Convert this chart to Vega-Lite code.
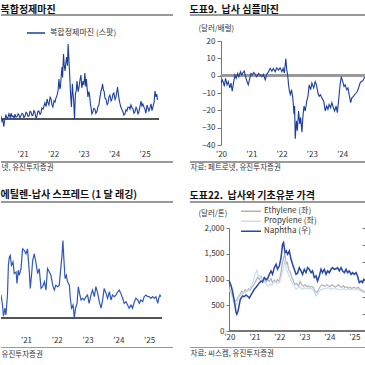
{
"$schema": "https://vega.github.io/schema/vega-lite/v6.json",
"padding": {"left": 0, "top": 4, "right": 0, "bottom": 0},
"columns": 2,
"spacing": {"row": 83, "column": 17},
"bounds": "flush",
"align": "none",
"resolve": {"scale": {"color": "independent"}, "legend": {"color": "independent"}},
"datasets": {
"tl": [
{"t":2020.29,"v":1.2},{"t":2020.32,"v":-0.8},{"t":2020.35,"v":-0.2},{"t":2020.38,"v":-3.0},{"t":2020.41,"v":-0.4},{"t":2020.45,"v":1.5},{"t":2020.49,"v":0.2},{"t":2020.52,"v":0.8},{"t":2020.55,"v":2.0},{"t":2020.59,"v":0.6},{"t":2020.62,"v":2.3},{"t":2020.65,"v":0.9},{"t":2020.68,"v":1.2},{"t":2020.72,"v":0.3},{"t":2020.75,"v":1.9},{"t":2020.78,"v":0.7},{"t":2020.81,"v":0.8},{"t":2020.85,"v":2.0},{"t":2020.88,"v":1.5},{"t":2020.91,"v":0.4},{"t":2020.94,"v":1.2},{"t":2020.98,"v":2.2},{"t":2021.01,"v":1.9},{"t":2021.04,"v":0.6},{"t":2021.08,"v":1.2},{"t":2021.11,"v":2.6},{"t":2021.14,"v":2.3},{"t":2021.18,"v":1.0},{"t":2021.21,"v":1.2},{"t":2021.24,"v":2.9},{"t":2021.27,"v":2.7},{"t":2021.31,"v":1.3},{"t":2021.34,"v":1.5},{"t":2021.37,"v":3.2},{"t":2021.40,"v":2.7},{"t":2021.44,"v":0.2},{"t":2021.47,"v":1.2},{"t":2021.50,"v":3.0},{"t":2021.53,"v":3.1},{"t":2021.57,"v":1.8},{"t":2021.60,"v":2.3},{"t":2021.63,"v":4.2},{"t":2021.67,"v":3.8},{"t":2021.70,"v":5.0},{"t":2021.73,"v":6.2},{"t":2021.77,"v":4.8},{"t":2021.80,"v":7.7},{"t":2021.83,"v":6.3},{"t":2021.86,"v":5.4},{"t":2021.90,"v":8.4},{"t":2021.93,"v":7.7},{"t":2021.96,"v":5.5},{"t":2021.99,"v":4.6},{"t":2022.03,"v":7.0},{"t":2022.06,"v":6.5},{"t":2022.09,"v":8.0},{"t":2022.12,"v":8.8},{"t":2022.16,"v":10.8},{"t":2022.19,"v":15.4},{"t":2022.22,"v":11.5},{"t":2022.24,"v":12.3},{"t":2022.27,"v":17.5},{"t":2022.29,"v":20.0},{"t":2022.31,"v":16.0},{"t":2022.34,"v":25.0},{"t":2022.36,"v":21.0},{"t":2022.39,"v":18.5},{"t":2022.42,"v":22.0},{"t":2022.44,"v":23.8},{"t":2022.47,"v":20.5},{"t":2022.49,"v":28.8},{"t":2022.52,"v":22.3},{"t":2022.55,"v":15.0},{"t":2022.57,"v":9.6},{"t":2022.60,"v":4.6},{"t":2022.63,"v":13.5},{"t":2022.65,"v":10.0},{"t":2022.67,"v":7.7},{"t":2022.70,"v":0.0},{"t":2022.73,"v":9.6},{"t":2022.76,"v":11.0},{"t":2022.78,"v":14.6},{"t":2022.82,"v":10.5},{"t":2022.85,"v":12.3},{"t":2022.88,"v":15.0},{"t":2022.91,"v":16.9},{"t":2022.94,"v":12.0},{"t":2022.98,"v":14.6},{"t":2023.01,"v":13.0},{"t":2023.04,"v":17.7},{"t":2023.07,"v":12.5},{"t":2023.09,"v":15.4},{"t":2023.12,"v":11.0},{"t":2023.14,"v":8.5},{"t":2023.17,"v":10.5},{"t":2023.19,"v":9.6},{"t":2023.22,"v":6.0},{"t":2023.24,"v":4.6},{"t":2023.27,"v":2.0},{"t":2023.30,"v":2.7},{"t":2023.33,"v":4.0},{"t":2023.37,"v":3.8},{"t":2023.40,"v":2.2},{"t":2023.44,"v":3.1},{"t":2023.47,"v":4.8},{"t":2023.50,"v":5.4},{"t":2023.53,"v":8.0},{"t":2023.57,"v":10.8},{"t":2023.60,"v":12.0},{"t":2023.62,"v":13.5},{"t":2023.65,"v":11.0},{"t":2023.67,"v":10.8},{"t":2023.70,"v":8.0},{"t":2023.73,"v":7.7},{"t":2023.77,"v":5.5},{"t":2023.80,"v":6.2},{"t":2023.83,"v":8.5},{"t":2023.86,"v":9.2},{"t":2023.90,"v":7.0},{"t":2023.93,"v":7.7},{"t":2023.96,"v":9.5},{"t":2023.99,"v":10.0},{"t":2024.03,"v":7.5},{"t":2024.06,"v":8.5},{"t":2024.09,"v":10.5},{"t":2024.11,"v":12.3},{"t":2024.14,"v":9.5},{"t":2024.16,"v":7.7},{"t":2024.19,"v":6.0},{"t":2024.22,"v":4.6},{"t":2024.26,"v":3.5},{"t":2024.29,"v":2.7},{"t":2024.32,"v":1.5},{"t":2024.35,"v":1.9},{"t":2024.39,"v":3.5},{"t":2024.42,"v":3.1},{"t":2024.45,"v":4.5},{"t":2024.49,"v":4.6},{"t":2024.52,"v":3.8},{"t":2024.55,"v":5.4},{"t":2024.59,"v":4.2},{"t":2024.62,"v":3.8},{"t":2024.65,"v":2.2},{"t":2024.68,"v":2.7},{"t":2024.72,"v":4.5},{"t":2024.75,"v":3.8},{"t":2024.78,"v":2.0},{"t":2024.81,"v":2.7},{"t":2024.85,"v":5.0},{"t":2024.88,"v":6.9},{"t":2024.91,"v":5.0},{"t":2024.94,"v":5.8},{"t":2024.98,"v":4.5},{"t":2025.01,"v":3.8},{"t":2025.04,"v":2.2},{"t":2025.08,"v":5.4},{"t":2025.11,"v":4.2},{"t":2025.14,"v":3.1},{"t":2025.18,"v":4.5},{"t":2025.21,"v":5.8},{"t":2025.24,"v":3.2},{"t":2025.27,"v":4.6},{"t":2025.31,"v":6.5},{"t":2025.34,"v":10.8},{"t":2025.37,"v":8.5},{"t":2025.40,"v":9.5},{"t":2025.42,"v":7.3}
],
"tr": [
{"t":2020.01,"v":-4.3},{"t":2020.04,"v":-2.4},{"t":2020.07,"v":-3.5},{"t":2020.11,"v":-6.2},{"t":2020.15,"v":-1.5},{"t":2020.2,"v":-5.3},{"t":2020.24,"v":-3.4},{"t":2020.29,"v":-7.1},{"t":2020.33,"v":-4.3},{"t":2020.37,"v":-9.0},{"t":2020.42,"v":-3.4},{"t":2020.46,"v":0.4},{"t":2020.5,"v":-1.5},{"t":2020.55,"v":1.3},{"t":2020.59,"v":-0.6},{"t":2020.64,"v":2.3},{"t":2020.68,"v":0.4},{"t":2020.73,"v":1.9},{"t":2020.77,"v":2.6},{"t":2020.81,"v":-0.6},{"t":2020.86,"v":-3.4},{"t":2020.9,"v":-5.3},{"t":2020.95,"v":-1.5},{"t":2020.99,"v":1.3},{"t":2021.03,"v":0.4},{"t":2021.08,"v":1.9},{"t":2021.13,"v":0.8},{"t":2021.18,"v":-0.6},{"t":2021.24,"v":1.3},{"t":2021.29,"v":0.4},{"t":2021.35,"v":-0.6},{"t":2021.4,"v":0.8},{"t":2021.46,"v":-2.4},{"t":2021.51,"v":0.8},{"t":2021.57,"v":2.3},{"t":2021.62,"v":4.2},{"t":2021.68,"v":2.6},{"t":2021.73,"v":4.2},{"t":2021.79,"v":2.3},{"t":2021.84,"v":4.5},{"t":2021.9,"v":3.2},{"t":2021.95,"v":4.5},{"t":2022.01,"v":2.3},{"t":2022.05,"v":4.2},{"t":2022.09,"v":1.5},{"t":2022.12,"v":6.5},{"t":2022.14,"v":9.8},{"t":2022.17,"v":3.5},{"t":2022.2,"v":0.4},{"t":2022.23,"v":-5.3},{"t":2022.26,"v":-9.0},{"t":2022.29,"v":-10.9},{"t":2022.33,"v":-8.1},{"t":2022.37,"v":-12.8},{"t":2022.41,"v":-22.2},{"t":2022.43,"v":-17.5},{"t":2022.45,"v":-36.4},{"t":2022.49,"v":-26.0},{"t":2022.52,"v":-31.7},{"t":2022.56,"v":-20.4},{"t":2022.6,"v":-27.9},{"t":2022.63,"v":-24.1},{"t":2022.67,"v":-32.6},{"t":2022.71,"v":-22.2},{"t":2022.74,"v":-17.5},{"t":2022.78,"v":-20.4},{"t":2022.83,"v":-14.7},{"t":2022.87,"v":-11.9},{"t":2022.91,"v":-5.3},{"t":2022.96,"v":-8.1},{"t":2023.0,"v":-4.3},{"t":2023.06,"v":-7.1},{"t":2023.11,"v":-3.4},{"t":2023.15,"v":-5.3},{"t":2023.2,"v":-10.0},{"t":2023.24,"v":-11.9},{"t":2023.28,"v":-11.0},{"t":2023.33,"v":-12.8},{"t":2023.39,"v":-14.7},{"t":2023.44,"v":-20.4},{"t":2023.49,"v":-17.5},{"t":2023.53,"v":-19.4},{"t":2023.57,"v":-16.6},{"t":2023.62,"v":-18.5},{"t":2023.66,"v":-15.6},{"t":2023.71,"v":-18.5},{"t":2023.75,"v":-20.4},{"t":2023.8,"v":-17.5},{"t":2023.84,"v":-21.3},{"t":2023.88,"v":-14.7},{"t":2023.93,"v":-5.3},{"t":2023.97,"v":-0.6},{"t":2024.02,"v":-3.4},{"t":2024.06,"v":-6.2},{"t":2024.1,"v":-5.3},{"t":2024.15,"v":-8.1},{"t":2024.19,"v":-7.1},{"t":2024.23,"v":-10.9},{"t":2024.28,"v":-15.6},{"t":2024.32,"v":-12.8},{"t":2024.37,"v":-11.9},{"t":2024.41,"v":-11.0},{"t":2024.46,"v":-10.0},{"t":2024.5,"v":-9.0},{"t":2024.54,"v":-7.1},{"t":2024.59,"v":-4.3},{"t":2024.63,"v":-3.4},{"t":2024.68,"v":-3.0},{"t":2024.72,"v":-1.5},{"t":2024.77,"v":-0.6},{"t":2024.83,"v":-1.0}
],
"bl": [
{"t":2020.19,"v":179},{"t":2020.24,"v":102},{"t":2020.27,"v":15},{"t":2020.32,"v":77},{"t":2020.35,"v":25},{"t":2020.40,"v":179},{"t":2020.43,"v":410},{"t":2020.46,"v":474},{"t":2020.49,"v":487},{"t":2020.53,"v":410},{"t":2020.58,"v":436},{"t":2020.62,"v":346},{"t":2020.68,"v":359},{"t":2020.71,"v":269},{"t":2020.75,"v":372},{"t":2020.78,"v":333},{"t":2020.84,"v":385},{"t":2020.89,"v":538},{"t":2020.95,"v":525},{"t":2021.0,"v":500},{"t":2021.05,"v":538},{"t":2021.11,"v":359},{"t":2021.14,"v":231},{"t":2021.18,"v":333},{"t":2021.22,"v":449},{"t":2021.27,"v":500},{"t":2021.32,"v":436},{"t":2021.38,"v":346},{"t":2021.43,"v":385},{"t":2021.49,"v":231},{"t":2021.54,"v":244},{"t":2021.6,"v":282},{"t":2021.65,"v":218},{"t":2021.70,"v":385},{"t":2021.76,"v":359},{"t":2021.81,"v":333},{"t":2021.87,"v":256},{"t":2021.92,"v":218},{"t":2021.97,"v":256},{"t":2022.03,"v":244},{"t":2022.08,"v":256},{"t":2022.14,"v":410},{"t":2022.17,"v":487},{"t":2022.20,"v":602},{"t":2022.23,"v":462},{"t":2022.27,"v":308},{"t":2022.31,"v":333},{"t":2022.35,"v":282},{"t":2022.41,"v":256},{"t":2022.44,"v":154},{"t":2022.48,"v":77},{"t":2022.53,"v":102},{"t":2022.57,"v":0},{"t":2022.61,"v":77},{"t":2022.66,"v":115},{"t":2022.70,"v":244},{"t":2022.74,"v":192},{"t":2022.79,"v":141},{"t":2022.84,"v":154},{"t":2022.89,"v":141},{"t":2022.95,"v":167},{"t":2023.0,"v":179},{"t":2023.05,"v":115},{"t":2023.11,"v":179},{"t":2023.16,"v":218},{"t":2023.22,"v":167},{"t":2023.27,"v":244},{"t":2023.33,"v":192},{"t":2023.38,"v":128},{"t":2023.44,"v":77},{"t":2023.49,"v":141},{"t":2023.54,"v":231},{"t":2023.6,"v":192},{"t":2023.65,"v":154},{"t":2023.71,"v":205},{"t":2023.76,"v":141},{"t":2023.81,"v":179},{"t":2023.87,"v":167},{"t":2023.92,"v":179},{"t":2023.98,"v":205},{"t":2024.03,"v":218},{"t":2024.08,"v":192},{"t":2024.14,"v":154},{"t":2024.19,"v":115},{"t":2024.25,"v":128},{"t":2024.3,"v":102},{"t":2024.35,"v":77},{"t":2024.41,"v":102},{"t":2024.46,"v":77},{"t":2024.52,"v":128},{"t":2024.57,"v":154},{"t":2024.63,"v":141},{"t":2024.68,"v":115},{"t":2024.73,"v":141},{"t":2024.79,"v":128},{"t":2024.84,"v":167},{"t":2024.9,"v":179},{"t":2024.95,"v":167},{"t":2025.0,"v":167},{"t":2025.06,"v":154},{"t":2025.11,"v":167},{"t":2025.17,"v":154},{"t":2025.22,"v":167},{"t":2025.28,"v":115},{"t":2025.31,"v":154},{"t":2025.35,"v":179},{"t":2025.38,"v":167}
],
"br": [
{"s":"Naphtha (우)","t":2020.0,"v":583},{"s":"Naphtha (우)","t":2020.07,"v":530},{"s":"Naphtha (우)","t":2020.13,"v":460},{"s":"Naphtha (우)","t":2020.2,"v":350},{"s":"Naphtha (우)","t":2020.27,"v":218},{"s":"Naphtha (우)","t":2020.3,"v":195},{"s":"Naphtha (우)","t":2020.35,"v":233},{"s":"Naphtha (우)","t":2020.44,"v":369},{"s":"Naphtha (우)","t":2020.53,"v":408},{"s":"Naphtha (우)","t":2020.6,"v":400},{"s":"Naphtha (우)","t":2020.67,"v":420},{"s":"Naphtha (우)","t":2020.73,"v":405},{"s":"Naphtha (우)","t":2020.8,"v":385},{"s":"Naphtha (우)","t":2020.87,"v":420},{"s":"Naphtha (우)","t":2020.93,"v":450},{"s":"Naphtha (우)","t":2021.0,"v":486},{"s":"Naphtha (우)","t":2021.07,"v":510},{"s":"Naphtha (우)","t":2021.13,"v":532},{"s":"Naphtha (우)","t":2021.2,"v":560},{"s":"Naphtha (우)","t":2021.27,"v":583},{"s":"Naphtha (우)","t":2021.33,"v":570},{"s":"Naphtha (우)","t":2021.4,"v":622},{"s":"Naphtha (우)","t":2021.47,"v":600},{"s":"Naphtha (우)","t":2021.53,"v":610},{"s":"Naphtha (우)","t":2021.6,"v":660},{"s":"Naphtha (우)","t":2021.67,"v":699},{"s":"Naphtha (우)","t":2021.73,"v":660},{"s":"Naphtha (우)","t":2021.8,"v":738},{"s":"Naphtha (우)","t":2021.87,"v":777},{"s":"Naphtha (우)","t":2021.93,"v":720},{"s":"Naphtha (우)","t":2022.0,"v":757},{"s":"Naphtha (우)","t":2022.07,"v":855},{"s":"Naphtha (우)","t":2022.13,"v":1010},{"s":"Naphtha (우)","t":2022.17,"v":1030},{"s":"Naphtha (우)","t":2022.23,"v":913},{"s":"Naphtha (우)","t":2022.28,"v":932},{"s":"Naphtha (우)","t":2022.33,"v":894},{"s":"Naphtha (우)","t":2022.4,"v":932},{"s":"Naphtha (우)","t":2022.47,"v":835},{"s":"Naphtha (우)","t":2022.53,"v":777},{"s":"Naphtha (우)","t":2022.6,"v":719},{"s":"Naphtha (우)","t":2022.67,"v":660},{"s":"Naphtha (우)","t":2022.73,"v":673},{"s":"Naphtha (우)","t":2022.8,"v":738},{"s":"Naphtha (우)","t":2022.87,"v":700},{"s":"Naphtha (우)","t":2022.93,"v":660},{"s":"Naphtha (우)","t":2023.0,"v":719},{"s":"Naphtha (우)","t":2023.07,"v":680},{"s":"Naphtha (우)","t":2023.13,"v":738},{"s":"Naphtha (우)","t":2023.2,"v":719},{"s":"Naphtha (우)","t":2023.27,"v":680},{"s":"Naphtha (우)","t":2023.33,"v":700},{"s":"Naphtha (우)","t":2023.4,"v":622},{"s":"Naphtha (우)","t":2023.47,"v":641},{"s":"Naphtha (우)","t":2023.53,"v":583},{"s":"Naphtha (우)","t":2023.6,"v":641},{"s":"Naphtha (우)","t":2023.67,"v":719},{"s":"Naphtha (우)","t":2023.73,"v":680},{"s":"Naphtha (우)","t":2023.8,"v":719},{"s":"Naphtha (우)","t":2023.87,"v":660},{"s":"Naphtha (우)","t":2023.93,"v":700},{"s":"Naphtha (우)","t":2024.0,"v":680},{"s":"Naphtha (우)","t":2024.07,"v":719},{"s":"Naphtha (우)","t":2024.13,"v":738},{"s":"Naphtha (우)","t":2024.2,"v":719},{"s":"Naphtha (우)","t":2024.27,"v":725},{"s":"Naphtha (우)","t":2024.33,"v":738},{"s":"Naphtha (우)","t":2024.4,"v":700},{"s":"Naphtha (우)","t":2024.47,"v":738},{"s":"Naphtha (우)","t":2024.53,"v":700},{"s":"Naphtha (우)","t":2024.6,"v":680},{"s":"Naphtha (우)","t":2024.67,"v":719},{"s":"Naphtha (우)","t":2024.73,"v":680},{"s":"Naphtha (우)","t":2024.8,"v":700},{"s":"Naphtha (우)","t":2024.87,"v":660},{"s":"Naphtha (우)","t":2024.93,"v":680},{"s":"Naphtha (우)","t":2025.0,"v":660},{"s":"Naphtha (우)","t":2025.07,"v":680},{"s":"Naphtha (우)","t":2025.13,"v":641},{"s":"Naphtha (우)","t":2025.2,"v":564},{"s":"Naphtha (우)","t":2025.27,"v":583},{"s":"Naphtha (우)","t":2025.33,"v":564},{"s":"Naphtha (우)","t":2025.38,"v":602},{"s":"Naphtha (우)","t":2025.42,"v":590},
{"s":"Ethylene (좌)","t":2020.0,"v":843},{"s":"Ethylene (좌)","t":2020.05,"v":780},{"s":"Ethylene (좌)","t":2020.1,"v":713},{"s":"Ethylene (좌)","t":2020.17,"v":620},{"s":"Ethylene (좌)","t":2020.23,"v":583},{"s":"Ethylene (좌)","t":2020.3,"v":600},{"s":"Ethylene (좌)","t":2020.37,"v":680},{"s":"Ethylene (좌)","t":2020.43,"v":713},{"s":"Ethylene (좌)","t":2020.5,"v":775},{"s":"Ethylene (좌)","t":2020.57,"v":740},{"s":"Ethylene (좌)","t":2020.63,"v":800},{"s":"Ethylene (좌)","t":2020.7,"v":770},{"s":"Ethylene (좌)","t":2020.77,"v":820},{"s":"Ethylene (좌)","t":2020.83,"v":790},{"s":"Ethylene (좌)","t":2020.9,"v":850},{"s":"Ethylene (좌)","t":2021.0,"v":913},{"s":"Ethylene (좌)","t":2021.07,"v":980},{"s":"Ethylene (좌)","t":2021.13,"v":1040},{"s":"Ethylene (좌)","t":2021.2,"v":1000},{"s":"Ethylene (좌)","t":2021.27,"v":1060},{"s":"Ethylene (좌)","t":2021.33,"v":990},{"s":"Ethylene (좌)","t":2021.4,"v":1040},{"s":"Ethylene (좌)","t":2021.47,"v":950},{"s":"Ethylene (좌)","t":2021.53,"v":1000},{"s":"Ethylene (좌)","t":2021.6,"v":960},{"s":"Ethylene (좌)","t":2021.67,"v":1020},{"s":"Ethylene (좌)","t":2021.73,"v":930},{"s":"Ethylene (좌)","t":2021.8,"v":990},{"s":"Ethylene (좌)","t":2021.87,"v":950},{"s":"Ethylene (좌)","t":2021.93,"v":1000},{"s":"Ethylene (좌)","t":2022.0,"v":960},{"s":"Ethylene (좌)","t":2022.07,"v":1150},{"s":"Ethylene (좌)","t":2022.13,"v":1350},{"s":"Ethylene (좌)","t":2022.22,"v":1500},{"s":"Ethylene (좌)","t":2022.27,"v":1300},{"s":"Ethylene (좌)","t":2022.32,"v":1330},{"s":"Ethylene (좌)","t":2022.37,"v":1200},{"s":"Ethylene (좌)","t":2022.43,"v":1150},{"s":"Ethylene (좌)","t":2022.5,"v":1050},{"s":"Ethylene (좌)","t":2022.57,"v":960},{"s":"Ethylene (좌)","t":2022.63,"v":900},{"s":"Ethylene (좌)","t":2022.7,"v":923},{"s":"Ethylene (좌)","t":2022.77,"v":860},{"s":"Ethylene (좌)","t":2022.83,"v":960},{"s":"Ethylene (좌)","t":2022.9,"v":900},{"s":"Ethylene (좌)","t":2022.97,"v":870},{"s":"Ethylene (좌)","t":2023.03,"v":900},{"s":"Ethylene (좌)","t":2023.1,"v":860},{"s":"Ethylene (좌)","t":2023.17,"v":880},{"s":"Ethylene (좌)","t":2023.23,"v":850},{"s":"Ethylene (좌)","t":2023.3,"v":870},{"s":"Ethylene (좌)","t":2023.37,"v":840},{"s":"Ethylene (좌)","t":2023.43,"v":770},{"s":"Ethylene (좌)","t":2023.5,"v":745},{"s":"Ethylene (좌)","t":2023.57,"v":800},{"s":"Ethylene (좌)","t":2023.63,"v":860},{"s":"Ethylene (좌)","t":2023.7,"v":900},{"s":"Ethylene (좌)","t":2023.77,"v":880},{"s":"Ethylene (좌)","t":2023.83,"v":870},{"s":"Ethylene (좌)","t":2023.9,"v":900},{"s":"Ethylene (좌)","t":2023.97,"v":880},{"s":"Ethylene (좌)","t":2024.03,"v":860},{"s":"Ethylene (좌)","t":2024.1,"v":900},{"s":"Ethylene (좌)","t":2024.17,"v":880},{"s":"Ethylene (좌)","t":2024.23,"v":850},{"s":"Ethylene (좌)","t":2024.3,"v":870},{"s":"Ethylene (좌)","t":2024.37,"v":900},{"s":"Ethylene (좌)","t":2024.43,"v":860},{"s":"Ethylene (좌)","t":2024.5,"v":850},{"s":"Ethylene (좌)","t":2024.57,"v":880},{"s":"Ethylene (좌)","t":2024.63,"v":840},{"s":"Ethylene (좌)","t":2024.7,"v":860},{"s":"Ethylene (좌)","t":2024.77,"v":830},{"s":"Ethylene (좌)","t":2024.83,"v":850},{"s":"Ethylene (좌)","t":2024.9,"v":820},{"s":"Ethylene (좌)","t":2024.97,"v":850},{"s":"Ethylene (좌)","t":2025.03,"v":840},{"s":"Ethylene (좌)","t":2025.1,"v":830},{"s":"Ethylene (좌)","t":2025.17,"v":850},{"s":"Ethylene (좌)","t":2025.23,"v":810},{"s":"Ethylene (좌)","t":2025.3,"v":790},{"s":"Ethylene (좌)","t":2025.37,"v":770},{"s":"Ethylene (좌)","t":2025.42,"v":750},
{"s":"Propylene (좌)","t":2020.0,"v":800},{"s":"Propylene (좌)","t":2020.05,"v":740},{"s":"Propylene (좌)","t":2020.1,"v":680},{"s":"Propylene (좌)","t":2020.17,"v":560},{"s":"Propylene (좌)","t":2020.23,"v":486},{"s":"Propylene (좌)","t":2020.3,"v":520},{"s":"Propylene (좌)","t":2020.37,"v":650},{"s":"Propylene (좌)","t":2020.43,"v":690},{"s":"Propylene (좌)","t":2020.5,"v":713},{"s":"Propylene (좌)","t":2020.57,"v":760},{"s":"Propylene (좌)","t":2020.63,"v":740},{"s":"Propylene (좌)","t":2020.7,"v":800},{"s":"Propylene (좌)","t":2020.77,"v":780},{"s":"Propylene (좌)","t":2020.83,"v":830},{"s":"Propylene (좌)","t":2020.9,"v":900},{"s":"Propylene (좌)","t":2020.97,"v":978},{"s":"Propylene (좌)","t":2021.03,"v":1100},{"s":"Propylene (좌)","t":2021.1,"v":1180},{"s":"Propylene (좌)","t":2021.17,"v":1050},{"s":"Propylene (좌)","t":2021.23,"v":1080},{"s":"Propylene (좌)","t":2021.3,"v":1000},{"s":"Propylene (좌)","t":2021.37,"v":1020},{"s":"Propylene (좌)","t":2021.43,"v":940},{"s":"Propylene (좌)","t":2021.5,"v":900},{"s":"Propylene (좌)","t":2021.57,"v":880},{"s":"Propylene (좌)","t":2021.63,"v":920},{"s":"Propylene (좌)","t":2021.7,"v":880},{"s":"Propylene (좌)","t":2021.77,"v":950},{"s":"Propylene (좌)","t":2021.83,"v":960},{"s":"Propylene (좌)","t":2021.9,"v":920},{"s":"Propylene (좌)","t":2021.97,"v":940},{"s":"Propylene (좌)","t":2022.03,"v":980},{"s":"Propylene (좌)","t":2022.1,"v":1100},{"s":"Propylene (좌)","t":2022.17,"v":1250},{"s":"Propylene (좌)","t":2022.22,"v":1380},{"s":"Propylene (좌)","t":2022.27,"v":1200},{"s":"Propylene (좌)","t":2022.33,"v":1150},{"s":"Propylene (좌)","t":2022.4,"v":1050},{"s":"Propylene (좌)","t":2022.47,"v":980},{"s":"Propylene (좌)","t":2022.53,"v":920},{"s":"Propylene (좌)","t":2022.6,"v":870},{"s":"Propylene (좌)","t":2022.67,"v":809},{"s":"Propylene (좌)","t":2022.73,"v":830},{"s":"Propylene (좌)","t":2022.8,"v":870},{"s":"Propylene (좌)","t":2022.87,"v":830},{"s":"Propylene (좌)","t":2022.93,"v":810},{"s":"Propylene (좌)","t":2023.0,"v":840},{"s":"Propylene (좌)","t":2023.07,"v":820},{"s":"Propylene (좌)","t":2023.13,"v":840},{"s":"Propylene (좌)","t":2023.2,"v":815},{"s":"Propylene (좌)","t":2023.27,"v":830},{"s":"Propylene (좌)","t":2023.33,"v":810},{"s":"Propylene (좌)","t":2023.4,"v":760},{"s":"Propylene (좌)","t":2023.47,"v":680},{"s":"Propylene (좌)","t":2023.53,"v":720},{"s":"Propylene (좌)","t":2023.6,"v":775},{"s":"Propylene (좌)","t":2023.67,"v":810},{"s":"Propylene (좌)","t":2023.73,"v":800},{"s":"Propylene (좌)","t":2023.8,"v":830},{"s":"Propylene (좌)","t":2023.87,"v":820},{"s":"Propylene (좌)","t":2023.93,"v":840},{"s":"Propylene (좌)","t":2024.0,"v":830},{"s":"Propylene (좌)","t":2024.07,"v":810},{"s":"Propylene (좌)","t":2024.13,"v":830},{"s":"Propylene (좌)","t":2024.2,"v":820},{"s":"Propylene (좌)","t":2024.27,"v":810},{"s":"Propylene (좌)","t":2024.33,"v":820},{"s":"Propylene (좌)","t":2024.4,"v":800},{"s":"Propylene (좌)","t":2024.47,"v":815},{"s":"Propylene (좌)","t":2024.53,"v":805},{"s":"Propylene (좌)","t":2024.6,"v":820},{"s":"Propylene (좌)","t":2024.67,"v":800},{"s":"Propylene (좌)","t":2024.73,"v":815},{"s":"Propylene (좌)","t":2024.8,"v":810},{"s":"Propylene (좌)","t":2024.87,"v":800},{"s":"Propylene (좌)","t":2024.93,"v":815},{"s":"Propylene (좌)","t":2025.0,"v":810},{"s":"Propylene (좌)","t":2025.07,"v":800},{"s":"Propylene (좌)","t":2025.13,"v":815},{"s":"Propylene (좌)","t":2025.2,"v":790},{"s":"Propylene (좌)","t":2025.27,"v":770},{"s":"Propylene (좌)","t":2025.33,"v":760},{"s":"Propylene (좌)","t":2025.38,"v":745},{"s":"Propylene (좌)","t":2025.42,"v":740}
]
},
"concat": [
{
"width": 172, "height": 104,
"title": {"text": "복합정제마진", "anchor": "start", "offset": 0},
"data": {"name": "tl"},
"layer": [
{"mark": {"type": "rule", "color": "#999999", "strokeWidth": 1},
"encoding": {"x": {"datum": 2020.29, "type": "quantitative", "scale": {"domain": [2020.29, 2025.93], "nice": false, "zero": false}, "axis": null}, "x2": {"datum": 2025.93}, "y": {"datum": 40, "type": "quantitative", "scale": {"domain": [-10, 30], "nice": false, "zero": false}, "axis": null}}},
{"mark": {"type": "rule", "color": "#999999", "strokeWidth": 1},
"encoding": {"x": {"datum": 2020.29, "type": "quantitative", "scale": {"domain": [2020.29, 2025.93], "nice": false, "zero": false}, "axis": null}, "x2": {"datum": 2025.93}, "y": {"datum": -16.54, "type": "quantitative", "scale": {"domain": [-10, 30], "nice": false, "zero": false}, "axis": null}}},
{"mark": {"type": "rule", "color": "#555555", "strokeWidth": 1},
"encoding": {"x": {"datum": 2020.29, "type": "quantitative", "scale": {"domain": [2020.29, 2025.93], "nice": false, "zero": false}, "axis": null}, "x2": {"datum": 2025.44}, "y": {"datum": 0, "type": "quantitative", "scale": {"domain": [-10, 30], "nice": false, "zero": false}, "axis": null}}},
{"mark": {"type": "line", "strokeWidth": 1.1, "clip": true},
"encoding": {
"x": {"field": "t", "type": "quantitative", "scale": {"domain": [2020.29, 2025.93], "nice": false, "zero": false},
"axis": {"orient": "bottom", "values": [2021, 2022, 2023, 2024, 2025], "labelExpr": "\"'\" + (datum.value - 2000)", "labelOverlap": false, "offset": 17, "domain": false, "ticks": false, "tickSize": 0, "labelPadding": -12, "title": "넷, 유진투자증권", "titleX": 0, "titleY": 5.3, "titleAlign": "left", "titleBaseline": "middle", "titleAnchor": "start"}},
"y": {"field": "v", "type": "quantitative", "scale": {"domain": [-10, 30], "nice": false, "zero": false}, "axis": null},
"color": {"datum": "복합정제마진 (스팟)", "type": "nominal", "scale": {"range": ["#1c3f9e"]}, "legend": {"orient": "none", "legendX": 25, "legendY": -18, "symbolSize": 324, "labelOffset": 4}}
}}
],
"resolve": {"axis": {"x": "independent", "y": "independent"}}
},
{
"width": 175, "height": 104,
"title": {"text": "도표9.\u00a0\u00a0납사 심플마진", "anchor": "start", "offset": 0},
"data": {"name": "tr"},
"layer": [
{"mark": {"type": "rule", "color": "#999999", "strokeWidth": 1},
"encoding": {"x": {"datum": 2018.977, "type": "quantitative", "scale": {"domain": [2018.977, 2024.753], "nice": false, "zero": false}, "axis": null}, "x2": {"datum": 2024.753}, "y": {"datum": 35.0, "type": "quantitative", "scale": {"domain": [-40, 20], "nice": false, "zero": false}, "axis": null}}},
{"mark": {"type": "rule", "color": "#999999", "strokeWidth": 1},
"encoding": {"x": {"datum": 2018.977, "type": "quantitative", "scale": {"domain": [2018.977, 2024.753], "nice": false, "zero": false}, "axis": null}, "x2": {"datum": 2024.753}, "y": {"datum": -49.81, "type": "quantitative", "scale": {"domain": [-40, 20], "nice": false, "zero": false}, "axis": null}}},
{"mark": {"type": "rule", "color": "#999999", "strokeWidth": 1.6},
"encoding": {"x": {"datum": 2020, "type": "quantitative", "scale": {"domain": [2018.977, 2024.753], "nice": false, "zero": false}, "axis": null}, "x2": {"datum": 2024.753}, "y": {"datum": 0, "type": "quantitative", "scale": {"domain": [-40, 20], "nice": false, "zero": false}, "axis": null}}},
{"mark": {"type": "line", "strokeWidth": 1.1, "clip": true, "color": "#1c3f9e"},
"encoding": {
"x": {"field": "t", "type": "quantitative", "scale": {"domain": [2018.977, 2024.753], "nice": false, "zero": false},
"axis": {"orient": "bottom", "values": [2020, 2021, 2022, 2023, 2024], "labelExpr": "\"'\" + (datum.value - 2000)", "labelOverlap": false, "offset": 17, "domain": false, "ticks": false, "tickSize": 0, "labelPadding": -12, "title": "자료: 페트로넷, 유진투자증권", "titleX": 0, "titleY": 5, "titleAlign": "left", "titleBaseline": "middle", "titleAnchor": "start"}},
"y": {"field": "v", "type": "quantitative", "scale": {"domain": [-40, 20], "nice": false, "zero": false},
"axis": {"orient": "left", "offset": -31, "values": [-40, -30, -20, -10, 0, 10, 20], "labelOverlap": false, "title": "(달러/배럴)", "titleAngle": 0, "titleX": -23, "titleY": -13, "titleAlign": "left", "titleBaseline": "middle", "tickSize": 4, "labelPadding": 2}}
}}
],
"resolve": {"axis": {"x": "independent", "y": "independent"}}
},
{
"width": 172, "height": 103,
"title": {"text": "에틸렌-납사 스프레드 (1 달 래깅)", "anchor": "start", "offset": 1},
"data": {"name": "bl"},
"layer": [
{"mark": {"type": "rule", "color": "#999999", "strokeWidth": 1},
"encoding": {"x": {"datum": 2020.19, "type": "quantitative", "scale": {"domain": [2020.19, 2025.774], "nice": false, "zero": false}, "axis": null}, "x2": {"datum": 2025.774}, "y": {"datum": 904.3, "type": "quantitative", "scale": {"domain": [-100, 700], "nice": false, "zero": false}, "axis": null}}},
{"mark": {"type": "rule", "color": "#999999", "strokeWidth": 1},
"encoding": {"x": {"datum": 2020.19, "type": "quantitative", "scale": {"domain": [2020.19, 2025.774], "nice": false, "zero": false}, "axis": null}, "x2": {"datum": 2025.774}, "y": {"datum": -228.2, "type": "quantitative", "scale": {"domain": [-100, 700], "nice": false, "zero": false}, "axis": null}}},
{"mark": {"type": "rule", "color": "#555555", "strokeWidth": 1},
"encoding": {"x": {"datum": 2020.19, "type": "quantitative", "scale": {"domain": [2020.19, 2025.774], "nice": false, "zero": false}, "axis": null}, "x2": {"datum": 2025.41}, "y": {"datum": 0, "type": "quantitative", "scale": {"domain": [-100, 700], "nice": false, "zero": false}, "axis": null}}},
{"mark": {"type": "line", "strokeWidth": 1.2, "clip": true, "color": "#3157bd"},
"encoding": {
"x": {"field": "t", "type": "quantitative", "scale": {"domain": [2020.19, 2025.774], "nice": false, "zero": false},
"axis": {"orient": "bottom", "values": [2021, 2022, 2023, 2024, 2025], "labelExpr": "\"'\" + (datum.value - 2000)", "labelOverlap": false, "offset": 17, "domain": false, "ticks": false, "tickSize": 0, "labelPadding": -11.5, "title": "유진투자증권", "titleX": 0, "titleY": 6, "titleAlign": "left", "titleBaseline": "middle", "titleAnchor": "start"}},
"y": {"field": "v", "type": "quantitative", "scale": {"domain": [-100, 700], "nice": false, "zero": false}, "axis": null}
}}
],
"resolve": {"axis": {"x": "independent", "y": "independent"}}
},
{
"width": 175, "height": 103,
"title": {"text": "도표22.\u00a0\u00a0납사와 기초유분 가격", "anchor": "start", "offset": 0},
"data": {"name": "br"},
"layer": [
{"mark": {"type": "rule", "color": "#999999", "strokeWidth": 1},
"encoding": {"x": {"datum": 2018.428, "type": "quantitative", "axis": null}, "x2": {"datum": 2025.428}, "y": {"datum": 2510.7, "type": "quantitative", "scale": {"domain": [0, 2000], "nice": false}, "axis": null}}},
{"mark": {"type": "rule", "color": "#999999", "strokeWidth": 1},
"encoding": {"x": {"datum": 2018.428, "type": "quantitative", "axis": null}, "x2": {"datum": 2025.428}, "y": {"datum": -320.4, "type": "quantitative", "scale": {"domain": [0, 2000], "nice": false}, "axis": null}}},
{"mark": {"type": "rule", "color": "#777777", "strokeWidth": 1},
"encoding": {"x": {"datum": 2020, "type": "quantitative", "axis": null}, "x2": {"datum": 2025.428}, "y": {"datum": 0, "type": "quantitative", "scale": {"domain": [0, 2000], "nice": false}, "axis": null}}},
{
"transform": [{"filter": "datum.s !== 'Naphtha (우)'"}],
"mark": {"type": "line", "strokeWidth": 1.2, "clip": true},
"encoding": {
"x": {"field": "t", "type": "quantitative", "scale": {"domain": [2018.428, 2025.428], "nice": false, "zero": false},
"axis": {"orient": "bottom", "values": [2020, 2021, 2022, 2023, 2024, 2025], "labelExpr": "\"'\" + (datum.value - 2000)", "labelOverlap": false, "offset": 16.5, "domain": false, "ticks": false, "tickSize": 0, "labelPadding": -14, "title": "자료: 씨스켐, 유진투자증권", "titleX": 0, "titleY": 5.5, "titleAlign": "left", "titleBaseline": "middle", "titleAnchor": "start"}},
"y": {"field": "v", "type": "quantitative", "scale": {"domain": [0, 2000], "nice": false},
"axis": {"orient": "left", "offset": -39, "values": [0, 500, 1000, 1500, 2000], "labelOverlap": false, "labelExpr": "datum.value < 1000 ? '' + datum.value : floor(datum.value / 1000) + ',' + (datum.value % 1000 === 0 ? '000' : '500')", "title": "(달러/톤)", "titleAngle": 0, "titleX": -31, "titleY": -15, "titleAlign": "left", "titleBaseline": "middle", "tickSize": 3, "labelPadding": 2}},
"color": {"field": "s", "type": "nominal", "scale": {"domain": ["Ethylene (좌)", "Propylene (좌)", "Naphtha (우)"], "range": ["#b3b3b3", "#c9def3", "#2747aa"]},
"legend": {"orient": "none", "legendX": 55, "legendY": -22.75, "direction": "vertical", "symbolType": "M-2,0H2", "symbolSize": 100, "labelOffset": 7, "rowPadding": -1.2}}
}
},
{
"transform": [{"filter": "datum.s === 'Naphtha (우)'"}],
"mark": {"type": "line", "strokeWidth": 1.5, "clip": true},
"encoding": {
"x": {"field": "t", "type": "quantitative", "axis": null},
"y": {"field": "v", "type": "quantitative", "scale": {"domain": [0, 1200], "nice": false},
"axis": {"orient": "right", "values": [0, 200, 400, 600, 800, 1000, 1200], "labels": false, "title": null, "tickSize": -3}},
"color": {"field": "s", "type": "nominal"}
}
}
],
"resolve": {"scale": {"y": "independent"}, "axis": {"x": "independent", "y": "independent"}}
}
],
"config": {
"font": "Noto Sans CJK KR",
"view": {"stroke": null},
"title": {"fontSize": 10, "fontWeight": "bold", "color": "#111111"},
"axis": {"grid": false, "labelFontSize": 8, "labelColor": "#333333", "labelFlush": false, "labelOverlap": false, "domainColor": "#777777", "tickColor": "#777777", "titleFontSize": 7.5, "titleFontWeight": "normal", "titleColor": "#333333"},
"legend": {"title": null, "symbolType": "stroke", "symbolStrokeWidth": 1.5, "labelFontSize": 8, "labelColor": "#333333", "padding": 0}
}
}
